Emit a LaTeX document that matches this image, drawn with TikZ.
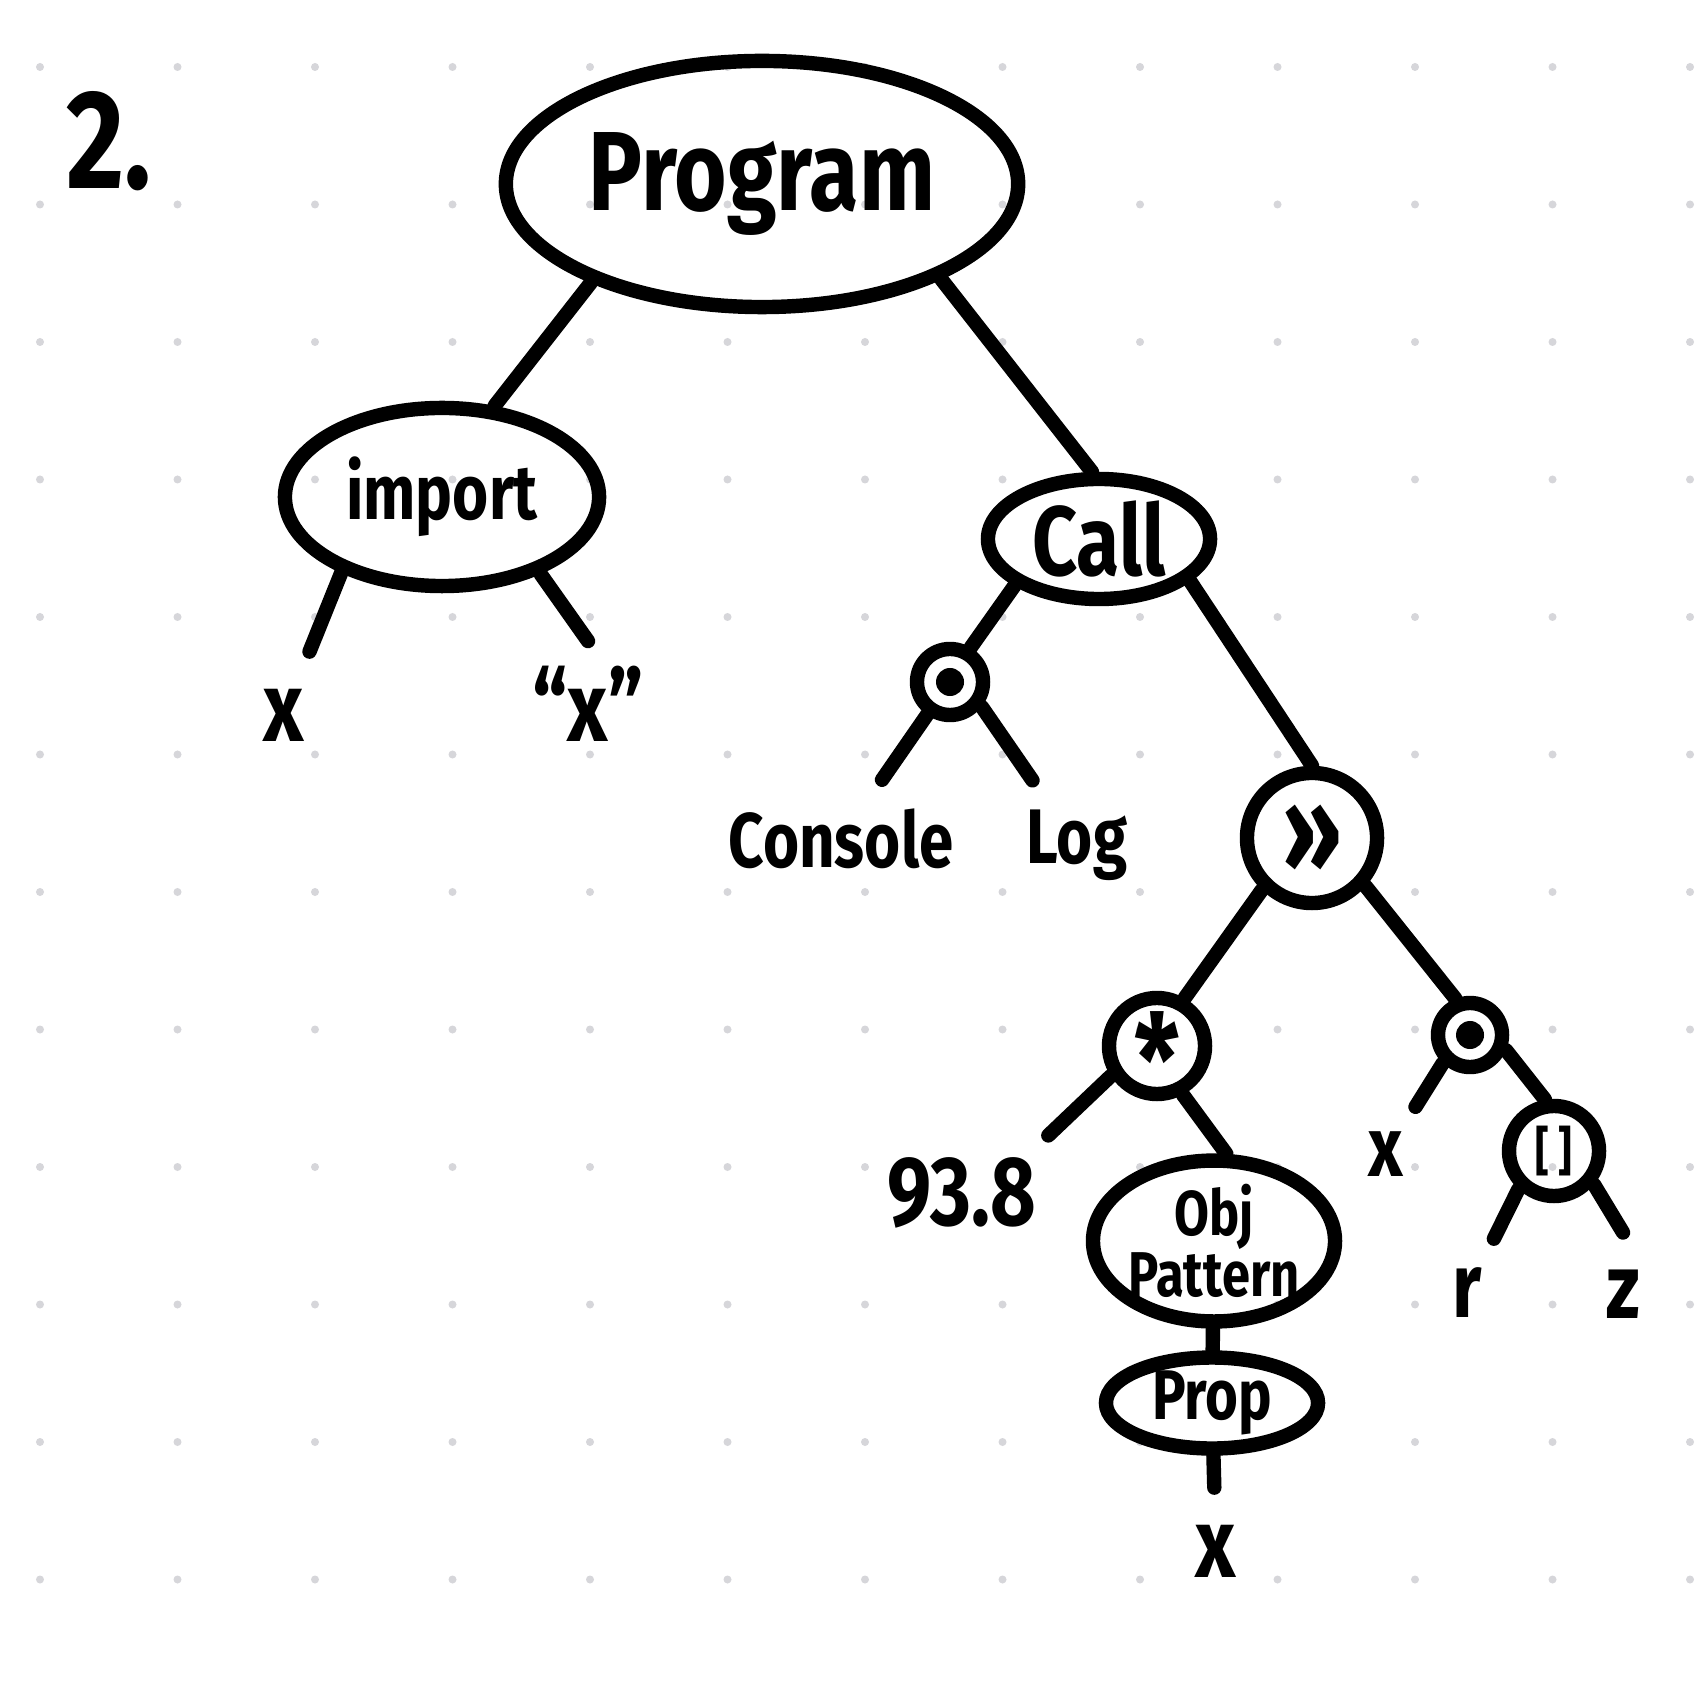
\documentclass[tikz,border=0pt]{standalone}
\usepackage{fontspec}
\newfontfamily\handfont{Fira Sans}[FakeStretch=0.8]
\usetikzlibrary{shapes.geometric}
\definecolor{ink}{RGB}{0,0,0}
\definecolor{griddot}{RGB}{214,214,218}

\begin{document}
\begin{tikzpicture}[
  x=0.01cm,y=-0.01cm,
  line width=4.1pt, line cap=round,
  txt/.style={font=\handfont\bfseries\fontsize{#1}{#1}\selectfont, text=ink},
  oval/.style={ellipse, draw=ink, line width=4.1pt, inner sep=0pt},
  op/.style={circle, draw=ink, line width=4.1pt, inner sep=0pt},
  dotop/.style={op, minimum size=0.66cm,
                path picture={\fill[ink] (path picture bounding box.center)
                  circle (1.4mm);}},
  leaf/.style={inner xsep=0.05cm, inner ysep=0.3cm}
]

% Paper with a dotted grid.
\fill[white] (0,0) rectangle (1695,1683);
\useasboundingbox (0,0) rectangle (1695,1683);
\foreach \i in {0,...,12}
  \foreach \j in {0,...,11}
    \fill[griddot] ({40+137.5*\i},{67+137.5*\j}) circle (0.04cm);

\node[txt=40] (label) at (109,141) {2.};

% Inner nodes of the tree.
\node[oval, minimum width=5.12cm, minimum height=2.46cm, txt=32]
  (prog) at (762,184) {Program};
\node[oval, minimum width=3.14cm, minimum height=1.78cm, txt=22]
  (imp) at (442,497) {import};
\node[oval, minimum width=2.22cm, minimum height=1.20cm, txt=28]
  (call) at (1099,539) {Call};
\node[dotop] (acc1) at (950,682) {};
\node[op, minimum size=1.30cm, txt=34] (pipe) at (1312,838) {»};
\node[op, minimum size=0.96cm, txt=36]
  (mul) at (1157,1046) {\smash{\raisebox{-0.47em}{*}}};
\node[dotop, minimum size=0.64cm] (acc2) at (1470,1035) {};
\node[op, minimum size=0.90cm, txt=15] (idx) at (1554,1151) {[\,]};
\node[oval, minimum width=2.26cm, minimum height=1.36cm, align=center,
  font=\handfont\bfseries\fontsize{18}{15}\selectfont]
  (objpat) at (1214,1241) {Obj\\Pattern};
\node[oval, minimum width=2.12cm, minimum height=0.84cm, txt=20]
  (prop) at (1212,1403) {Prop};

% Leaves.
\node[leaf, txt=28] (impname) at (284,715) {x};
\node[leaf, txt=28, inner ysep=0.18cm] (impsrc) at (588,704) {“x”};
\node[leaf, txt=22, inner ysep=0.22cm] (console) at (841,839) {Console};
\node[leaf, txt=22, inner ysep=0.22cm] (log) at (1077,845) {Log};
\node[leaf, txt=28, inner ysep=0.15cm] (num) at (962,1193) {93.8};
\node[leaf, txt=24] (accx) at (1386,1154) {x};
\node[leaf, txt=26] (idxr) at (1467,1293) {r};
\node[leaf, txt=26] (idxz) at (1623,1294) {z};
\node[leaf, txt=28] (propx) at (1216,1551) {x};

% Branches.
\draw (prog.210) -- (imp.60);
\draw (prog.332) -- (call.96);
\draw (imp.217) -- (impname);
\draw (imp.322) -- (impsrc.north);
\draw (call.209) -- (acc1.59);
\draw (acc1.235) -- (console);
\draw (acc1.322) -- (log);
\draw (call.335) -- (pipe.north);
\draw (pipe.226) -- (mul.60);
\draw (pipe.318) -- (acc2.112);
\draw (mul.213) -- (num.north east);
\draw (mul.298) -- (objpat.82);
\draw (objpat) -- (prop);
\draw (prop) -- (propx);
\draw (acc2.226) -- (accx);
\draw (acc2.337) -- (idx.100);
\draw (idx.227) -- (idxr);
\draw (idx.320) -- (idxz.north);

\end{tikzpicture}
\end{document}
